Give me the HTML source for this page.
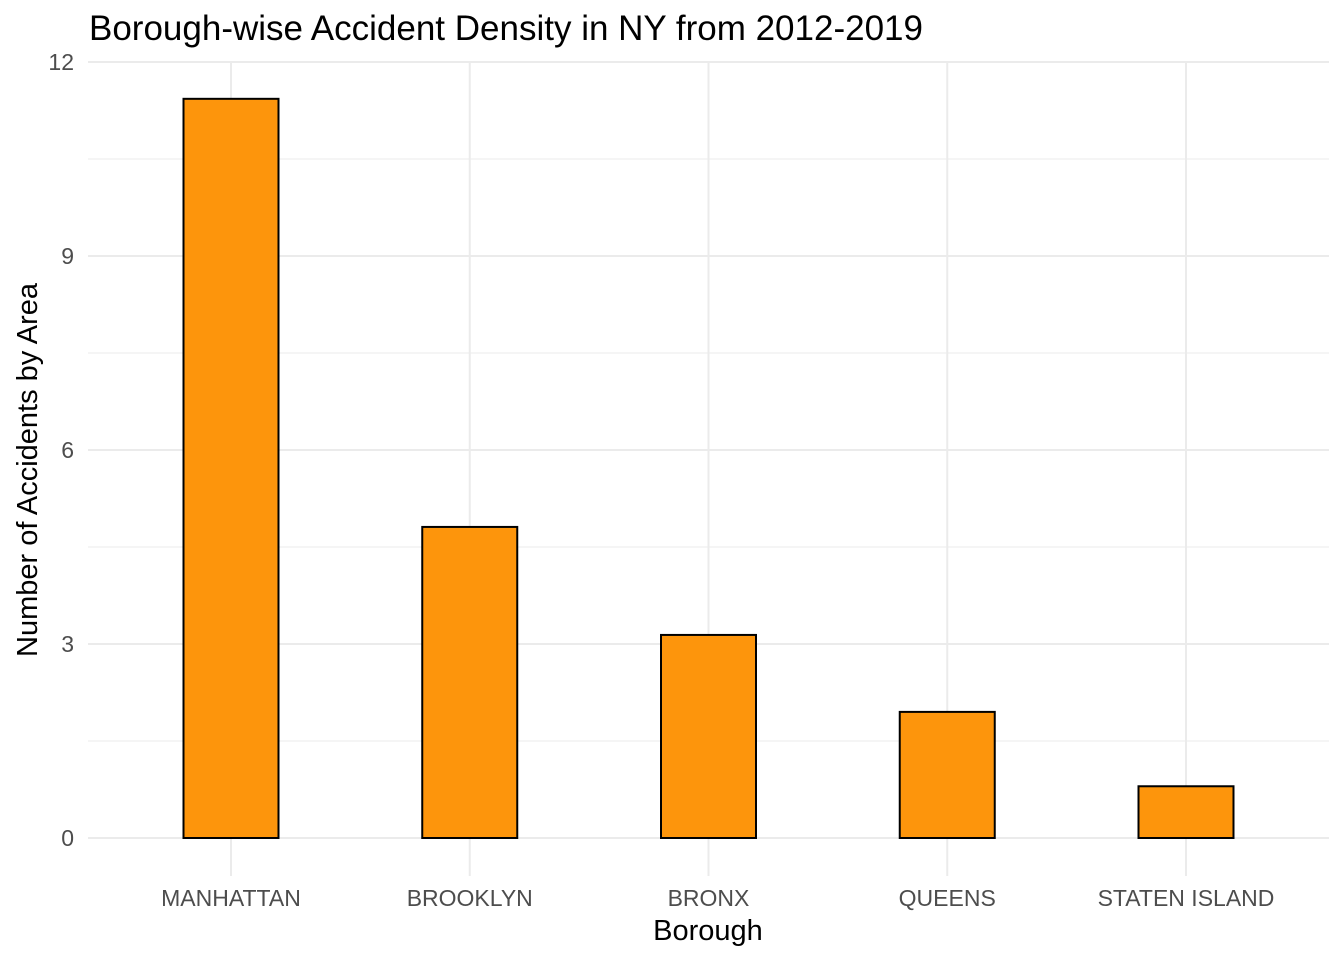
<!DOCTYPE html>
<html><head><meta charset="utf-8"><style>
body{margin:0;background:#fff;}
svg{display:block;font-family:"Liberation Sans",Arial,sans-serif;}
</style></head><body>
<svg id="chart" width="1344" height="960">
<text x="89" y="40" font-size="35" fill="#000">Borough-wise Accident Density in NY from 2012-2019</text>
<g id="grid"></g><g id="bars"></g><g id="ticks"></g>
<text x="708" y="940" font-size="29" text-anchor="middle" fill="#000">Borough</text>
<text transform="translate(37,470) rotate(-90)" font-size="29" text-anchor="middle" fill="#000">Number of Accidents by Area</text>
</svg>
<script>
const categories=["MANHATTAN","BROOKLYN","BRONX","QUEENS","STATEN ISLAND"];
const values=[11.43,4.81,3.14,1.95,0.80];
const yTicks=[0,3,6,9,12];
const yMinor=[1.5,4.5,7.5,10.5];
const NS="http://www.w3.org/2000/svg";
const y=v=>838-v*64.67;
const x=i=>231+i*238.75;
const pl=88,pr=1329,pt=62,pb=876;
function mk(t,a,p){const e=document.createElementNS(NS,t);for(const k in a)e.setAttribute(k,a[k]);p.appendChild(e);return e;}
const g=document.getElementById('grid'),b=document.getElementById('bars'),t=document.getElementById('ticks');
yMinor.forEach(v=>{const l=mk('line',{x1:pl,x2:pr,y1:y(v),y2:y(v),stroke:'#ebebeb','stroke-width':1},g);

});
yTicks.forEach(v=>{const l=mk('line',{x1:pl,x2:pr,y1:y(v),y2:y(v),stroke:'#ebebeb','stroke-width':2},g);


const tx=mk('text',{x:74,y:y(v)+8,'font-size':23,'text-anchor':'end',fill:'#4d4d4d'},t);tx.textContent=v;

});
categories.forEach((c,i)=>{const l=mk('line',{x1:x(i),x2:x(i),y1:pt,y2:pb,stroke:'#ebebeb','stroke-width':2},g);


const r=mk('rect',{x:x(i)-47.5,y:y(values[i]),width:95,height:y(0)-y(values[i]),fill:'#fd950c',stroke:'#000','stroke-width':2},b);


const tx=mk('text',{x:x(i),y:906,'font-size':23,'text-anchor':'middle',fill:'#4d4d4d'},t);tx.textContent=c;

});
</script>
</body></html>
